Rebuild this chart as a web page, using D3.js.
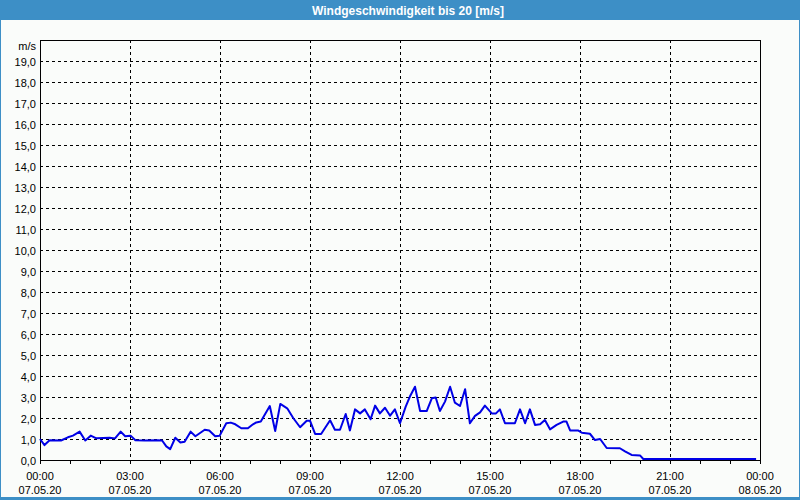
<!DOCTYPE html>
<html>
<head>
<meta charset="utf-8">
<script src="https://cdn.jsdelivr.net/npm/d3@7"></script>
<style>
html,body{margin:0;padding:0;background:#fafcfa;}
svg{display:block;font-family:"Liberation Sans",Arial,sans-serif;}
</style>
</head>
<body>
<svg id="chart" width="800" height="500"></svg>
<script>
const title = "Windgeschwindigkeit bis 20 [m/s]";
const unitLabel = "m/s";
const xTickHours = [0, 3, 6, 9, 12, 15, 18, 21, 24];
const xTickTimes = ["00:00","03:00","06:00","09:00","12:00","15:00","18:00","21:00","00:00"];
const xTickDates = ["07.05.20","07.05.20","07.05.20","07.05.20","07.05.20","07.05.20","07.05.20","07.05.20","08.05.20"];
const yTicks = [0,1,2,3,4,5,6,7,8,9,10,11,12,13,14,15,16,17,18,19];
const hours = [0,0.15,0.32,0.7,0.93,1.1,1.32,1.51,1.69,1.88,2.32,2.5,2.69,2.84,3.02,3.18,3.5,3.93,4.07,4.21,4.34,4.51,4.68,4.82,5.02,5.18,5.49,5.64,5.84,5.99,6.21,6.36,6.51,6.71,6.93,7.1,7.21,7.36,7.66,7.84,8.01,8.24,8.44,8.67,8.89,9.0,9.17,9.37,9.67,9.83,10.0,10.19,10.33,10.5,10.67,10.83,11.02,11.17,11.33,11.5,11.67,11.83,12.0,12.19,12.33,12.5,12.67,12.89,13.06,13.19,13.33,13.5,13.67,13.83,14.0,14.17,14.33,14.5,14.67,14.83,15.06,15.2,15.33,15.5,15.83,16.0,16.17,16.33,16.5,16.67,16.83,17.0,17.22,17.44,17.55,17.67,17.93,18.06,18.33,18.5,18.67,18.89,19.33,19.5,19.72,20.0,20.11,23.87];
const speeds = [1.0,0.71,0.94,0.93,1.08,1.16,1.35,0.93,1.16,1.03,1.06,1.03,1.35,1.13,1.16,0.94,0.93,0.94,0.93,0.65,0.52,1.06,0.83,0.87,1.35,1.13,1.44,1.4,1.13,1.16,1.75,1.78,1.7,1.51,1.51,1.7,1.79,1.83,2.57,1.38,2.67,2.46,2.0,1.56,1.87,1.87,1.24,1.24,1.89,1.44,1.44,2.19,1.41,2.41,2.22,2.41,1.94,2.59,2.22,2.49,2.11,2.41,1.75,2.54,3.02,3.49,2.33,2.33,2.94,2.98,2.33,2.78,3.49,2.73,2.57,3.37,1.75,2.1,2.27,2.59,2.22,2.22,2.41,1.75,1.75,2.41,1.75,2.41,1.67,1.7,1.9,1.46,1.67,1.83,1.83,1.41,1.41,1.3,1.25,0.95,1.0,0.57,0.56,0.41,0.24,0.22,0.05,0.05];

const svg = d3.select("#chart");
const W = 800, H = 500;
const L = 40, R = 760, T = 40, B = 460;

// outer frame & title bar
svg.append("rect").attr("x",0).attr("y",0).attr("width",W).attr("height",H).attr("fill","#fafcfa");
svg.append("rect").attr("x",0.5).attr("y",0.5).attr("width",W-1).attr("height",H-1)
  .attr("fill","none").attr("stroke","#3d8fc6").attr("stroke-width",1);
svg.append("rect").attr("x",0).attr("y",0).attr("width",W).attr("height",20).attr("fill","#3d8fc6");
svg.append("rect").attr("x",0).attr("y",H-3).attr("width",W).attr("height",3).attr("fill","#3d8fc6");
svg.append("text").attr("x",408).attr("y",14.5).attr("text-anchor","middle")
  .attr("fill","#ffffff").attr("font-weight","bold").attr("font-size","12px").text(title);

const x = d3.scaleLinear().domain([0,24]).range([L,R]);
const y = d3.scaleLinear().domain([0,20]).range([B,T]);

// horizontal grid
svg.append("g").selectAll("line").data(yTicks.filter(v=>v>0)).join("line")
  .attr("x1",L).attr("x2",R)
  .attr("y1",d=>Math.round(y(d))+0.5).attr("y2",d=>Math.round(y(d))+0.5)
  .attr("stroke","#000").attr("stroke-dasharray","3,3").attr("shape-rendering","crispEdges");
// vertical grid
svg.append("g").selectAll("line").data(xTickHours.filter(h=>h>0&&h<24)).join("line")
  .attr("x1",d=>Math.round(x(d))+0.5).attr("x2",d=>Math.round(x(d))+0.5)
  .attr("y1",T).attr("y2",B)
  .attr("stroke","#000").attr("stroke-dasharray","3,3").attr("shape-rendering","crispEdges");

// hourly minor ticks
svg.append("g").selectAll("line").data(d3.range(0,25)).join("line")
  .attr("x1",d=>Math.round(x(d))+0.5).attr("x2",d=>Math.round(x(d))+0.5)
  .attr("y1",B).attr("y2",B+4)
  .attr("stroke","#000").attr("shape-rendering","crispEdges");

// plot frame
svg.append("rect").attr("x",L+0.5).attr("y",T+0.5).attr("width",R-L).attr("height",B-T)
  .attr("fill","none").attr("stroke","#000").attr("shape-rendering","crispEdges");

// y labels
svg.append("g").selectAll("text").data(yTicks).join("text")
  .attr("x",36).attr("y",d=>y(d)+4.5).attr("text-anchor","end")
  .attr("font-size","11px").attr("fill","#000")
  .text(d=>d3.format(".1f")(d).replace(".",","));
svg.append("text").attr("x",36).attr("y",50).attr("text-anchor","end")
  .attr("font-size","11px").attr("fill","#000").text(unitLabel);

// x labels
const xl = svg.append("g").selectAll("g").data(xTickHours).join("g");
xl.append("text").attr("x",(d)=>x(d)).attr("y",479.5).attr("text-anchor","middle")
  .attr("font-size","11px").attr("fill","#000").text((d,i)=>xTickTimes[i]);
xl.append("text").attr("x",(d)=>x(d)).attr("y",494).attr("text-anchor","middle")
  .attr("font-size","11px").attr("fill","#000").text((d,i)=>xTickDates[i]);

// data line
const pts = hours.map((h,i)=>[h,speeds[i]]);
svg.append("path").datum(pts)
  .attr("d", d3.line().x(d=>x(d[0])).y(d=>y(d[1])))
  .attr("fill","none").attr("stroke","#0000e6").attr("stroke-width",2)
  .attr("stroke-linejoin","round");
</script>
</body>
</html>
